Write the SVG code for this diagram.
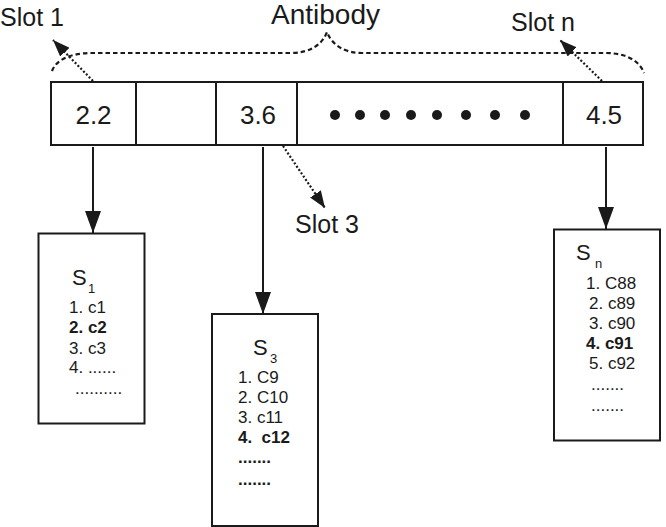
<svg xmlns="http://www.w3.org/2000/svg" width="666" height="527" viewBox="0 0 666 527">
<defs>
<style>
text{font-family:"Liberation Sans",Arial,sans-serif;fill:#1a1a1a}
.big{font-size:25px}
.val{font-size:26px;text-anchor:middle}
.sv{font-size:22px}
.sub{font-size:13px}
.li{font-size:17px;white-space:pre}
.b{font-weight:bold}
.box{fill:#fff;stroke:#1a1a1a;stroke-width:2}
.solid{stroke:#1a1a1a;stroke-width:2;fill:none}
.dot{stroke:#1a1a1a;stroke-width:2.2;fill:none;stroke-dasharray:2 2}
.dash{stroke:#1a1a1a;stroke-width:2.2;fill:none;stroke-dasharray:4.5 3}
</style>
<marker id="ah" markerUnits="userSpaceOnUse" markerWidth="22" markerHeight="16" refX="22" refY="8" orient="auto"><path d="M0,0 L22,8 L0,16 z" fill="#1a1a1a"/></marker>
<marker id="ad" markerUnits="userSpaceOnUse" markerWidth="17" markerHeight="13" refX="17" refY="6.5" orient="auto"><path d="M0,0 L17,6.5 L0,13 z" fill="#1a1a1a"/></marker>
</defs>
<rect width="666" height="527" fill="#fff"/>

<g id="antibody">
<text class="big" x="271" y="24" style="font-size:28px">Antibody</text>
<path class="dash" d="M52,71 C56,60 70,53 92,53 L290,53 C310,53 322,45 327,32 C332,45 344,53 362,53 L605,53 C628,53 640,62 644,73"/>
</g>

<g id="slots">
<rect x="51" y="82" width="592" height="63" fill="#fff" stroke="#1a1a1a" stroke-width="2"/>
<line class="solid" x1="136" y1="82" x2="136" y2="145"/>
<line class="solid" x1="216" y1="82" x2="216" y2="145"/>
<line class="solid" x1="297" y1="82" x2="297" y2="145"/>
<line class="solid" x1="563" y1="82" x2="563" y2="145"/>
<text class="val" x="93.5" y="124">2.2</text>
<text class="val" x="258" y="124">3.6</text>
<text class="val" x="604" y="124">4.5</text>
<g fill="#1a1a1a">
<circle cx="335" cy="115" r="5"/><circle cx="360" cy="115" r="5"/><circle cx="385" cy="115" r="5"/><circle cx="411" cy="115" r="5"/>
<circle cx="437" cy="115" r="5"/><circle cx="466" cy="115" r="5"/><circle cx="495" cy="115" r="5"/><circle cx="525" cy="115" r="5"/>
</g>
</g>

<g id="slot-labels">
<text class="big" x="0" y="26">Slot 1</text>
<text class="big" x="511" y="31">Slot n</text>
<text class="big" x="295" y="233">Slot 3</text>
</g>

<g id="connectors">
<line class="dot" x1="93" y1="81" x2="53" y2="40" marker-end="url(#ad)"/>
<line class="dot" x1="602" y1="81" x2="560" y2="40" marker-end="url(#ad)"/>
<line class="dot" x1="283" y1="146" x2="325" y2="208" marker-end="url(#ad)"/>
<line class="solid" x1="93" y1="147" x2="93" y2="233" marker-end="url(#ah)"/>
<line class="solid" x1="263" y1="147" x2="263" y2="314" marker-end="url(#ah)"/>
<line class="solid" x1="606" y1="147" x2="606" y2="229" marker-end="url(#ah)"/>
</g>

<g id="s1">
<rect class="box" x="38.5" y="233.5" width="106" height="190"/>
<text class="sv" x="72" y="285">S</text><text class="sub" x="88" y="293">1</text>
<text class="li" x="69" y="313">1. c1</text>
<text class="li b" x="69" y="333">2. c2</text>
<text class="li" x="69" y="354">3. c3</text>
<text class="li" x="69" y="373">4. ......</text>
<text class="li" x="75" y="394">..........</text>
</g>

<g id="s3">
<rect class="box" x="212" y="314" width="106" height="212"/>
<text class="sv" x="253" y="355">S</text><text class="sub" x="270" y="363">3</text>
<text class="li" x="238" y="383">1. C9</text>
<text class="li" x="238" y="403">2. C10</text>
<text class="li" x="238" y="423">3. c11</text>
<text class="li b" x="238" y="443">4.  c12</text>
<text class="li b" x="238" y="463">.......</text>
<text class="li b" x="238" y="485">.......</text>
</g>

<g id="sn">
<rect class="box" x="554" y="229.5" width="106" height="211"/>
<text class="sv" x="576" y="260">S</text><text class="sub" x="595" y="268">n</text>
<text class="li" x="586" y="289">1. C88</text>
<text class="li" x="589" y="309">2. c89</text>
<text class="li" x="589" y="329">3. c90</text>
<text class="li b" x="586" y="349">4. c91</text>
<text class="li" x="589" y="369">5. c92</text>
<text class="li" x="591" y="390">.......</text>
<text class="li" x="591" y="411">.......</text>
</g>
</svg>
